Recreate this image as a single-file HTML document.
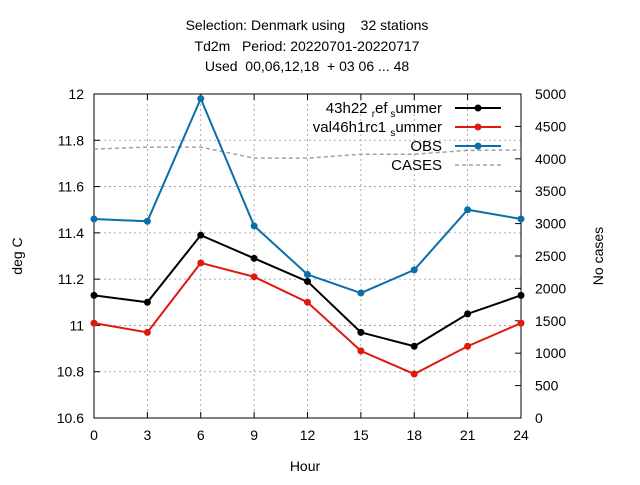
<!DOCTYPE html>
<html><head><meta charset="utf-8"><style>
body{margin:0;background:#fff;font-family:"Liberation Sans",sans-serif}
svg text{font-family:"Liberation Sans",sans-serif;font-size:14px;fill:#000}
svg text.pre{white-space:pre}
</style></head><body>
<svg id="c" width="640" height="480" xmlns="http://www.w3.org/2000/svg"></svg>
<script>
const hours=[0,3,6,9,12,15,18,21,24];
const refVals=[11.13,11.10,11.39,11.29,11.19,10.97,10.91,11.05,11.13];
const valVals=[11.01,10.97,11.27,11.21,11.10,10.89,10.79,10.91,11.01];
const obsVals=[11.46,11.45,11.98,11.43,11.22,11.14,11.24,11.50,11.46];
const casesVals=[4150,4180,4180,4010,4010,4070,4070,4130,4136];
const yTicks=[10.6,10.8,11,11.2,11.4,11.6,11.8,12];
const y2Ticks=[0,500,1000,1500,2000,2500,3000,3500,4000,4500,5000];
const L=94,R=521,T=94,B=418;
const X=h=>L+h/24*(R-L);
const Y=v=>B-(v-10.6)/1.4*(B-T);
const Y2=v=>B-v/5000*(B-T);
const svg=document.getElementById('c');
const NS='http://www.w3.org/2000/svg';
function mk(t,a,txt){const e=document.createElementNS(NS,t);for(const k in a)e.setAttribute(k,a[k]);if(txt!==undefined)e.textContent=txt;svg.appendChild(e);return e;}
hours.forEach(h=>{if(h>0&&h<24){const g=mk('line',{x1:X(h),x2:X(h),y1:T,y2:B,stroke:'#999','stroke-dasharray':'2,3','stroke-width':0.8});

}
const t=mk('text',{x:X(h),y:B+22,'text-anchor':'middle'},h);


mk('line',{x1:X(h),x2:X(h),y1:B,y2:B-6,stroke:'#000'});mk('line',{x1:X(h),x2:X(h),y1:T,y2:T+6,stroke:'#000'});});
yTicks.forEach(v=>{if(v>10.6&&v<12){const g=mk('line',{x1:L,x2:R,y1:Y(v),y2:Y(v),stroke:'#999','stroke-dasharray':'2,3','stroke-width':0.8});

}
const t=mk('text',{x:L-10,y:Y(v)+5,'text-anchor':'end'},String(v===11||v===12?v:v.toFixed(1)));


mk('line',{x1:L,x2:L+6,y1:Y(v),y2:Y(v),stroke:'#000'});});
y2Ticks.forEach(v=>{const t=mk('text',{x:R+14,y:Y2(v)+5},v);


mk('line',{x1:R,x2:R-6,y1:Y2(v),y2:Y2(v),stroke:'#000'});});
const fr=mk('rect',{x:L,y:T,width:R-L,height:B-T,fill:'none',stroke:'#000'});


function series(vals,col,name,yf,dash,pts){
 const d=vals.map((v,i)=>X(hours[i])+','+yf(v)).join(' ');
 const p=mk('polyline',{points:d,fill:'none',stroke:col,'stroke-width':dash?1.5:2,'stroke-dasharray':dash?'4,3':'none'});
 
 
 if(pts)vals.forEach((v,i)=>{const c=mk('circle',{cx:X(hours[i]),cy:yf(v),r:3.5,fill:col});
 
 });
}
series(casesVals,'#a0a0a0','cases',Y2,true,false);
series(obsVals,'#0a6ea8','obs',Y,false,true);
series(refVals,'#000','ref',Y,false,true);
series(valVals,'#e0190f','val',Y,false,true);
const leg=[['43h22','#000',false],['val46h1rc1','#e0190f',false],['OBS','#0a6ea8',false],['CASES','#a0a0a0',true]];
leg.forEach((l,i)=>{const y=108+i*19;
 const t=mk('text',{x:442,y:y+5,'text-anchor':'end','font-size':'15'});
 
 
 t.style.fontSize='15px';
 if(l[0]==='43h22')t.innerHTML='43h22 <tspan font-size="10" style="font-size:10px" dy="4">r</tspan><tspan dy="-4">ef</tspan><tspan style="font-size:10px" dy="4"> s</tspan><tspan dy="-4">ummer</tspan>';
 else if(l[0]==='val46h1rc1')t.innerHTML='val46h1rc1 <tspan style="font-size:10px" dy="4">s</tspan><tspan dy="-4">ummer</tspan>';
 else t.textContent=l[0];
 const ln=mk('line',{x1:455,x2:501,y1:y,y2:y,stroke:l[1],'stroke-width':l[2]?1.5:2,'stroke-dasharray':l[2]?'4,3':'none'});
 
 
 if(!l[2])mk('circle',{cx:478,cy:y,r:3.5,fill:l[1]});
});
[['Selection: Denmark using    32 stations',30],['Td2m   Period: 20220701-20220717',51],['Used  00,06,12,18  + 03 06 ... 48',71]].forEach(a=>{
 const t=mk('text',{x:307,y:a[1],'text-anchor':'middle','class':'pre'},a[0]);
 
 });
const xt=mk('text',{x:305,y:471,'text-anchor':'middle'},'Hour');


const yt=mk('text',{x:22,y:256,'text-anchor':'middle',transform:'rotate(-90 22 256)'},'deg C');


const y2t=mk('text',{x:603,y:256,'text-anchor':'middle',transform:'rotate(-90 603 256)'},'No cases');


</script>
</body></html>
